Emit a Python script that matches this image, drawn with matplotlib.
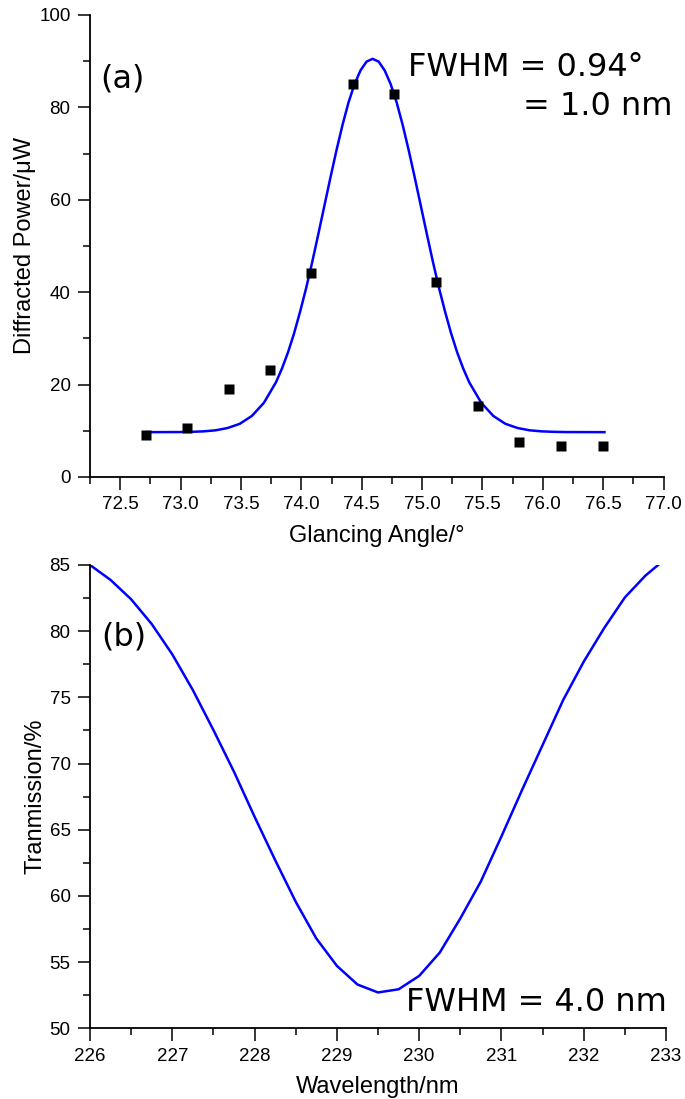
import numpy as np
import matplotlib.pyplot as plt
from matplotlib.ticker import MultipleLocator

# panel (a): measured points
angle = [72.715, 73.055, 73.40, 73.74, 74.08, 74.425, 74.77, 75.115, 75.46, 75.805, 76.15, 76.50]
power = [9.1, 10.7, 19.1, 23.1, 44.1, 85.0, 82.9, 42.1, 15.4, 7.6, 6.7, 6.6]

# panel (a): fitted curve
fit_angle = [72.72, 72.99, 73.09, 73.19, 73.29, 73.39, 73.49, 73.59, 73.69, 73.79,
             73.84, 73.89, 73.94, 73.99, 74.04, 74.09, 74.14, 74.19, 74.24, 74.29,
             74.34, 74.39, 74.44, 74.49, 74.54, 74.59, 74.64, 74.69, 74.74, 74.79,
             74.84, 74.89, 74.94, 74.99, 75.04, 75.09, 75.14, 75.19, 75.24, 75.29,
             75.34, 75.39, 75.49, 75.59, 75.69, 75.79, 75.89, 75.99, 76.09, 76.19, 76.51]
fit_power = [9.7, 9.72, 9.77, 9.87, 10.1, 10.6, 11.5, 13.2, 16.05, 20.5,
             23.5, 27.0, 31.1, 35.8, 40.9, 46.5, 52.5, 58.6, 64.7, 70.6,
             76.1, 81.0, 85.0, 88.0, 89.9, 90.5, 89.9, 88.0, 85.0, 81.0,
             76.1, 70.6, 64.7, 58.6, 52.5, 46.5, 40.9, 35.8, 31.1, 27.0,
             23.5, 20.5, 16.05, 13.2, 11.5, 10.6, 10.1, 9.87, 9.77, 9.72, 9.7]

# panel (b): transmission spectrum
wavelength = [226.0, 226.25, 226.5, 226.75, 227.0, 227.25, 227.5, 227.75, 228.0, 228.25,
              228.5, 228.75, 229.0, 229.25, 229.5, 229.75, 230.0, 230.25, 230.5, 230.75,
              231.0, 231.25, 231.5, 231.75, 232.0, 232.25, 232.5, 232.75, 233.0]
transmission = [85.0, 83.87, 82.41, 80.54, 78.25, 75.55, 72.53, 69.38, 65.98, 62.71,
                59.56, 56.79, 54.72, 53.31, 52.71, 52.95, 53.96, 55.72, 58.3, 61.1,
                64.5, 68.0, 71.4, 74.8, 77.7, 80.25, 82.55, 84.2, 85.5]

lab_font = 'Liberation Sans'
ann_font = 'DejaVu Sans'
blue = '#0000ff'

fig = plt.figure(figsize=(6.85, 10.99), dpi=100)
ax1 = fig.add_axes([0.1314, 0.5660, 0.8374, 0.4204])
ax2 = fig.add_axes([0.1314, 0.0643, 0.8409, 0.4216])


def style(ax):
    for s in ['top', 'right']:
        ax.spines[s].set_visible(False)
    for s in ['left', 'bottom']:
        ax.spines[s].set_linewidth(1.3)
    ax.tick_params(which='major', direction='out', length=9, width=1.1, labelsize=13.5, pad=5)
    ax.tick_params(which='minor', direction='out', length=5, width=1.1)
    for lbl in ax.get_xticklabels() + ax.get_yticklabels():
        lbl.set_fontfamily(lab_font)


# (a)
ax1.plot(fit_angle, fit_power, color=blue, lw=1.8, zorder=2)
ax1.plot(angle, power, 's', color='black', ms=6.8, mec='none', zorder=3)
ax1.set_xlim(72.25, 77.0)
ax1.set_ylim(0, 100)
ax1.xaxis.set_major_locator(MultipleLocator(0.5))
ax1.xaxis.set_minor_locator(MultipleLocator(0.25))
ax1.yaxis.set_major_locator(MultipleLocator(20))
ax1.yaxis.set_minor_locator(MultipleLocator(10))
ax1.xaxis.set_major_formatter(plt.FormatStrFormatter('%.1f'))
style(ax1)
ax1.set_xlabel('Glancing Angle/°', fontsize=17, family=lab_font, labelpad=8)
ax1.set_ylabel('Diffracted Power/μW', fontsize=17, family=lab_font, labelpad=2)
ax1.text(0.017, 0.844, '(a)', transform=ax1.transAxes, fontsize=23, family=ann_font, va='baseline')
ax1.text(0.555, 0.868, 'FWHM = 0.94°', transform=ax1.transAxes, fontsize=23, family=ann_font, va='baseline')
ax1.text(0.754, 0.784, '= 1.0 nm', transform=ax1.transAxes, fontsize=23, family=ann_font, va='baseline')

# (b)
ax2.plot(wavelength, transmission, color=blue, lw=1.8)
ax2.set_xlim(226, 233)
ax2.set_ylim(50, 85)
ax2.xaxis.set_major_locator(MultipleLocator(1))
ax2.xaxis.set_minor_locator(MultipleLocator(0.5))
ax2.yaxis.set_major_locator(MultipleLocator(5))
ax2.yaxis.set_minor_locator(MultipleLocator(2.5))
style(ax2)
ax2.set_xlabel('Wavelength/nm', fontsize=17, family=lab_font, labelpad=8)
ax2.set_ylabel('Tranmission/%', fontsize=17, family=lab_font, labelpad=2)
ax2.text(0.019, 0.827, '(b)', transform=ax2.transAxes, fontsize=23, family=ann_font, va='baseline')
ax2.text(0.549, 0.037, 'FWHM = 4.0 nm', transform=ax2.transAxes, fontsize=23, family=ann_font, va='baseline')

fig.savefig('out.png', dpi=100)
